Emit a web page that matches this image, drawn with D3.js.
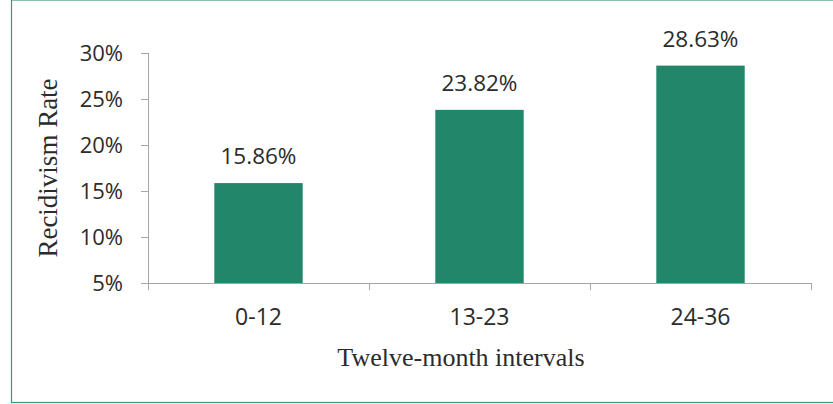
<!DOCTYPE html>
<html>
<head>
<meta charset="utf-8">
<script src="https://cdn.jsdelivr.net/npm/d3@7"></script>
<style>
  body { margin: 0; background: #fff; }
  svg { display: block; }
</style>
</head>
<body>
<div id="chart"></div>
<script>
(() => {
  const categories = ["0-12", "13-23", "24-36"];
  const values = [15.86, 23.82, 28.63];
  const yTicks = [5, 10, 15, 20, 25, 30];

  const W = 833, H = 404;
  const margin = { top: 53, left: 148, right: 22, bottom: 121 };
  const width = W - margin.left - margin.right,
        height = H - margin.top - margin.bottom;

  const svg = d3.select("#chart").append("svg")
    .attr("width", W)
    .attr("height", H);

  // outer frame
  svg.append("rect")
    .attr("x", 11.5).attr("y", 0)
    .attr("width", W).attr("height", H - 1.5)
    .attr("fill", "none")
    .attr("stroke", "#3f9675")
    .attr("stroke-width", 1.2);

  const g = svg.append("g")
    .attr("transform", `translate(${margin.left},${margin.top})`);

  const x = d3.scaleBand()
    .domain(categories)
    .range([0, width])
    .paddingInner(0.6)
    .paddingOuter(0.3);

  const y = d3.scaleLinear()
    .domain([5, 30])
    .range([height, 0]);

  const axisColor = "#a6a6a6";
  const textColor = "#2b2b2b";
  const sans = "'Open Sans', sans-serif";
  const serif = "'Liberation Serif', 'Times New Roman', serif";

  // y axis
  const yAxis = g.append("g")
    .call(d3.axisLeft(y).tickValues(yTicks).tickSize(7).tickPadding(18)
      .tickFormat(d => d + "%"));
  yAxis.select(".domain").attr("stroke", axisColor).attr("d", `M0.5,0V${height}`);
  yAxis.selectAll(".tick line").attr("stroke", axisColor);
  yAxis.selectAll("text")
    .attr("fill", textColor)
    .style("font-family", sans)
    .style("font-size", "22px");

  // bars
  g.selectAll(".bar")
    .data(values)
    .enter().append("rect")
    .attr("class", "bar")
    .attr("x", (d, i) => x(categories[i]))
    .attr("y", d => y(d))
    .attr("width", x.bandwidth())
    .attr("height", d => y(5) - y(d))
    .attr("fill", "#21866a");

  // value labels
  g.selectAll(".val")
    .data(values)
    .enter().append("text")
    .attr("x", (d, i) => x(categories[i]) + x.bandwidth() / 2)
    .attr("y", d => y(d) - 19)
    .attr("text-anchor", "middle")
    .attr("fill", textColor)
    .style("font-family", sans)
    .style("font-size", "22.5px")
    .text(d => d.toFixed(2) + "%");

  // x axis: labels centred in bands, ticks on band boundaries
  const xAxis = g.append("g")
    .attr("transform", `translate(0,${height})`)
    .call(d3.axisBottom(x).tickSize(0).tickPadding(26));
  xAxis.select(".domain").attr("stroke", axisColor).attr("d", `M0,0.5H${width}`);
  xAxis.selectAll("text")
    .attr("fill", textColor)
    .style("font-family", sans)
    .style("font-size", "23px");

  const step = x.step();
  const bounds = d3.range(categories.length + 1).map(i => i * step);
  xAxis.selectAll(".bound")
    .data(bounds)
    .enter().append("line")
    .attr("x1", d => Math.round(d) + 0.5)
    .attr("x2", d => Math.round(d) + 0.5)
    .attr("y1", 0).attr("y2", 7)
    .attr("stroke", axisColor);

  // axis titles
  svg.append("text")
    .attr("transform", "translate(57,168) rotate(-90)")
    .attr("text-anchor", "middle")
    .attr("fill", textColor)
    .style("font-family", serif)
    .style("font-size", "27px")
    .text("Recidivism Rate");

  svg.append("text")
    .attr("x", 461)
    .attr("y", 366)
    .attr("text-anchor", "middle")
    .attr("fill", textColor)
    .style("font-family", serif)
    .style("font-size", "26px")
    .text("Twelve-month intervals");
})();
</script>
</body>
</html>
